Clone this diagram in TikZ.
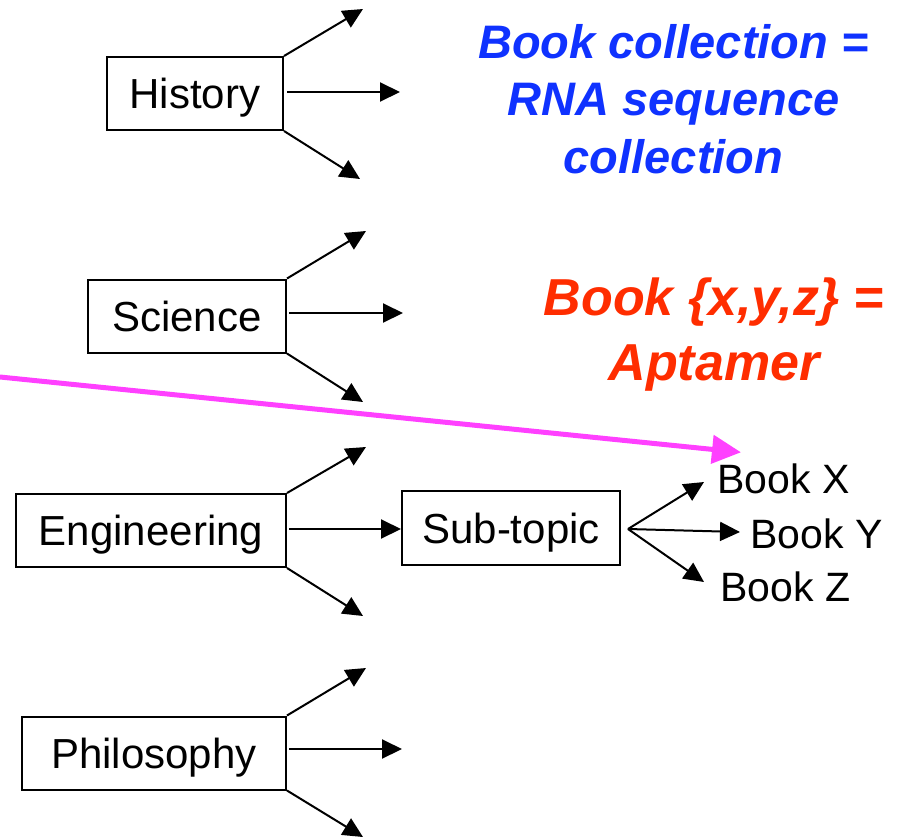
\documentclass[tikz,border=0pt]{standalone}
\usepackage{fontspec}
\setmainfont{Liberation Sans}
\usetikzlibrary{arrows.meta,calc}
\definecolor{txtblue}{RGB}{15,50,255}
\definecolor{txtred}{RGB}{255,45,0}
\definecolor{pinkline}{RGB}{255,64,255}
\begin{document}
\begin{tikzpicture}[x=1pt,y=-1pt,
  catbox/.style={draw,line width=2pt,inner sep=0pt,text height=30pt,text depth=0pt,
    minimum height=73pt,font=\fontsize{42}{48}\selectfont},
  booklbl/.style={inner sep=0pt,anchor=west,text height=29pt,text depth=0pt,
    font=\fontsize{41}{48}\selectfont},
  fan/.style={line width=2pt,-{Triangle[length=20pt,width=19pt]}},
  bluetxt/.style={text=txtblue,align=center,inner sep=0pt,anchor=base,
    font=\fontsize{47}{57.5}\selectfont\bfseries\itshape},
  redtxt/.style={text=txtred,align=center,inner sep=0pt,anchor=base,
    font=\fontsize{52}{65}\selectfont\bfseries\itshape},
  pinkarrow/.style={draw=pinkline,line width=5pt,-{Triangle[length=29pt,width=28pt]}}
]
\useasboundingbox (0,0) rectangle (920,838);

% category boxes
\node[catbox,minimum width=176pt] (hist) at (195,93.5) {History};
\node[catbox,minimum width=198pt] (sci) at (187,316) {Science};
\node[catbox,minimum width=270pt] (eng) at (151,530.5) {Engineering};
\node[catbox,minimum width=264pt] (phil) at (154,753) {Philosophy};
\node[catbox,minimum width=218pt,minimum height=74pt] (sub) at (511,528) {Sub-topic};

% books
\node[booklbl] (bx) at (717,479) {Book X};
\node[booklbl] (by) at (750,533.5) {Book Y};
\node[booklbl] (bz) at (720,587) {Book Z};

% free ends of fan arrows
\coordinate (h1) at (363,9);   \coordinate (h2) at (400,92);  \coordinate (h3) at (360,179);
\coordinate (s1) at (366,231); \coordinate (s2) at (403,313); \coordinate (s3) at (363,402);
\coordinate (e1) at (366,447); \coordinate (e3) at (363,616);
\coordinate (p1) at (366,668); \coordinate (p2) at (402,749); \coordinate (p3) at (363,837);

% fans
\draw[fan] (hist.north east) -- (h1);
\draw[fan,shorten <=3pt] (hist.east |- h2) -- (h2);
\draw[fan] (hist.south east) -- (h3);

\draw[fan] (sci.north east) -- (s1);
\draw[fan,shorten <=2pt] (sci.east |- s2) -- (s2);
\draw[fan] (sci.south east) -- (s3);

\draw[fan] (eng.north east) -- (e1);
\draw[fan,shorten <=2pt] (eng.east |- 0,529) -- (sub.west |- 0,529);
\draw[fan] (eng.south east) -- (e3);

\draw[fan] (phil.north east) -- (p1);
\draw[fan,shorten <=2pt] (phil.east |- p2) -- (p2);
\draw[fan] (phil.south east) -- (p3);

% sub-topic to books
\coordinate (sf) at ($(sub.east)+(7,1)$);
\draw[fan] (sf) -- ($(bx.west)+(-13,3)$);
\draw[fan] (sf) -- ($(by.west)+(-10,-1.5)$);
\draw[fan] (sf) -- ($(bz.west)+(-16,-5)$);

% texts
\node[bluetxt] (blue) at (673.5,173) {Book collection =\\RNA sequence\\collection};
\node[redtxt] (red) at (714,380) {Book \{x,y,z\} =\\Aptamer};

% pink arrow
\coordinate (pstart) at (0,377);
\draw[pinkarrow] (pstart) -- ($(bx.north west)+(24,-12)$);
\end{tikzpicture}
\end{document}
